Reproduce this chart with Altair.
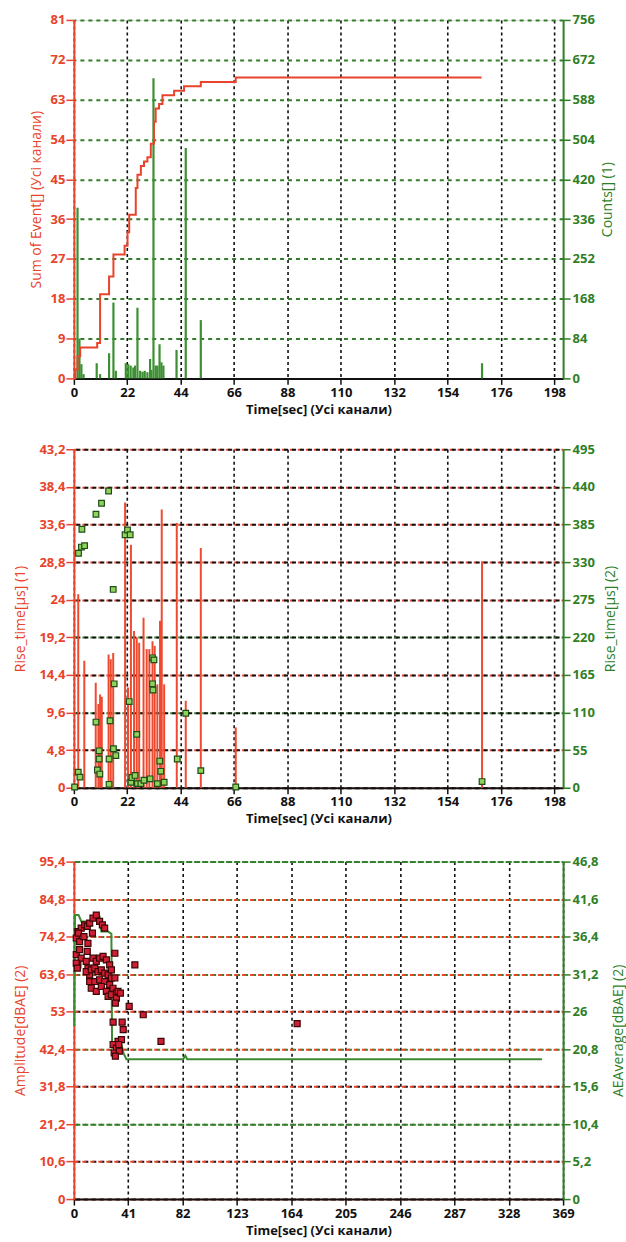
import altair as alt
import pandas as pd

# ---------------- colours ----------------
RED = "#e8442c"
GREEN = "#2f7f27"
BAR_GREEN = "#3c8f32"
GRID_GREEN = "#357f2c"
BLACK = "#111111"
SQ_GREEN = "#8fd35c"
SQ_RED = "#d01f35"

# ---------------- panel 1: cumulative events + counts ----------------
sum_t = [0, 0.6, 1.5, 2.6, 9.6, 10.8, 14.5, 16.3, 20.9, 22.1, 22.8, 25.5, 26.2,
         27.6, 28.9, 30.3, 31.7, 33.0, 33.7, 35.1, 36.5, 41.3, 45.4, 52.3, 66.7, 168.0]
sum_v = [0, 2, 5, 7, 8, 19, 23, 28, 30, 33, 37, 43, 46,
         48, 49, 50, 53, 58, 61, 62, 64, 65, 66, 67, 68, 68]

cnt_t = [1.5, 2.3, 3.1, 4.0, 9.4, 10.8, 14.5, 16.3, 17.3, 21.4, 22.4, 23.4, 24.5,
         25.2, 26.2, 27.3, 28.3, 29.2, 30.3, 31.4, 31.9, 32.8, 33.7, 34.4, 35.3,
         36.1, 36.9, 42.3, 46.1, 52.3, 168.2]
cnt_v = [360, 84, 30, 9, 32, 9, 53, 160, 16, 32, 30, 27, 23,
         27, 149, 16, 14, 16, 13, 41, 18, 633, 27, 27, 72,
         34, 27, 60, 486, 123, 32]

# ---------------- panel 2: rise time, channel 1 (lines) and 2 (squares) ----------------
r1_t = [1.8, 4.3, 9.0, 10.1, 10.8, 11.5, 14.3, 15.2, 16.2, 21.1, 22.3, 23.5, 24.8,
        25.9, 26.9, 28.7, 30.0, 31.1, 32.4, 33.3, 34.4, 35.5, 36.2, 37.2, 42.4,
        46.1, 52.3, 66.7, 168.2]
r1_v = [24.7, 16.2, 13.4, 10.7, 11.9, 11.6, 17.0, 16.4, 17.2, 36.4, 12.8, 31.0, 20.0,
        19.2, 18.5, 21.7, 17.7, 17.7, 18.7, 18.1, 13.2, 21.3, 35.5, 13.2, 33.8,
        11.1, 30.6, 7.7, 28.9]

r2_t = [0.3, 1.8, 2.5, 1.9, 3.1, 4.4, 3.3, 9.1, 11.4, 14.3, 16.2, 9.1, 9.7, 10.4,
        10.4, 10.7, 14.5, 14.9, 14.5, 16.3, 16.6, 17.3, 21.1, 22.1, 23.2, 22.8,
        23.5, 23.9, 25.2, 25.9, 26.2, 27.6, 28.9, 31.4, 32.4, 33.0, 32.4, 32.6,
        34.4, 35.4, 35.8, 37.2, 42.6, 46.1, 52.3, 66.7, 168.2]
r2_v = [1, 22.8, 15.5, 343, 352, 354, 378, 400, 416, 434, 290, 96, 26, 54,
        42, 20, 42, 98, 5, 57, 152, 47, 370, 377, 370, 126,
        8, 15, 18, 78, 6, 6, 11, 13, 190, 187, 152, 143,
        6, 39, 24, 8, 42, 109, 25, 1, 9]

# ---------------- panel 3: amplitude (squares) and AE average (line) ----------------
amp_t = [1.8, 3.0, 5.5, 8.1, 10.1, 11.9, 14.4, 16.9, 19.4, 21.5, 23.2, 3.5, 4.3,
         7.6, 14.0, 10.6, 10.1, 1.8, 3.0, 5.5, 9.3, 10.6, 11.9, 14.4, 16.9, 19.4,
         22.0, 24.5, 27.0, 9.3, 13.1, 15.7, 18.2, 20.7, 23.2, 25.8, 28.3, 11.9,
         15.7, 19.4, 23.2, 27.0, 29.5, 13.1, 16.9, 20.7, 24.5, 25.8, 28.3, 32.1,
         30.9, 33.3, 32.1, 35.1, 31.3, 29.6, 36.4, 37.2, 33.3, 35.9, 29.6, 32.1,
         30.4, 34.3, 31.3, 33.8, 41.7, 46.0, 52.3, 65.7, 168.4, 1.8, 2.6, 4.3,
         28.3, 30.9]
amp_v = [73.8, 75.6, 76.6, 77.5, 77.1, 78.0, 79.4, 80.3, 78.5, 77.5, 76.6, 75.2, 72.8,
         74.2, 75.2, 72.3, 70.0, 69.1, 66.2, 68.1, 67.2, 65.3, 63.4, 68.1, 67.2, 68.1,
         68.6, 67.6, 66.2, 64.3, 64.8, 65.3, 64.3, 64.8, 63.9, 63.4, 62.5, 61.5,
         61.5, 62.0, 61.5, 60.6, 59.6, 59.6, 58.7, 60.1, 58.7, 57.3, 57.8, 58.2,
         69.5, 58.7, 56.8, 58.2, 55.4, 50.0, 50.0, 47.9, 44.6, 45.1, 43.7, 42.7,
         41.3, 41.8, 40.4, 43.7, 54.5, 66.2, 52.1, 44.6, 49.6, 66.7, 65.3, 70.5,
         64.8, 62.5]

ae_t = [0.3, 0.8, 3.5, 5.6, 13.1, 16.9, 19.4, 20.7, 25.8, 28.3, 28.8, 33.0, 36.0,
        37.5, 39.6, 82.5, 84.0, 85.5, 353.0]
ae_v = [24.0, 39.4, 39.4, 38.5, 38.5, 39.2, 39.2, 37.1, 37.1, 36.8, 21.0, 20.9, 21.4,
        20.2, 19.4, 19.4, 19.9, 19.4, 19.4]

# ---------------- tick values ----------------
x_ticks_a = [0, 22, 44, 66, 88, 110, 132, 154, 176, 198]
x_ticks_b = [0, 41, 82, 123, 164, 205, 246, 287, 328, 369]
y1_left = [0, 9, 18, 27, 36, 45, 54, 63, 72, 81]
y1_right = [0, 84, 168, 252, 336, 420, 504, 588, 672, 756]
y2_left = [0, 4.8, 9.6, 14.4, 19.2, 24, 28.8, 33.6, 38.4, 43.2]
y2_right = [0, 55, 110, 165, 220, 275, 330, 385, 440, 495]
y3_left = [0, 10.6, 21.2, 31.8, 42.4, 53, 63.6, 74.2, 84.8, 95.4]
y3_right = [0, 5.2, 10.4, 15.6, 20.8, 26, 31.2, 36.4, 41.6, 46.8]

FONT = "Open Sans"
COMMA = "replace(toString(datum.value), '.', ',')"
W = 490


def near(vals):
    return " || ".join(f"abs(datum.value - {v}) < 0.01" for v in vals)


def x_enc(domain, ticks):
    return alt.X(
        "t:Q",
        scale=alt.Scale(domain=domain, nice=False, zero=False),
        axis=alt.Axis(
            values=ticks, title="Time[sec] (Усі канали)",
            grid=True, gridColor=BLACK, gridDash=[3, 3], gridWidth=1.6,
            domainColor=BLACK, domainWidth=2, tickColor=BLACK, tickSize=6,
            tickWidth=1.5, labelColor=BLACK, labelFont=FONT, labelFontSize=13,
            labelFontWeight="bold", labelPadding=2, labelFlush=False,
            titleFont=FONT, titleFontSize=13, titleFontWeight="bold",
            titleColor=BLACK, titlePadding=4,
        ),
    )


def y_axis(orient, ticks, title, color, height, title_x, grid_color=None,
           dash_offset=0):
    kw = dict(
        orient=orient, values=ticks, title=title, labelExpr=COMMA,
        domainColor=color, domainWidth=2, tickColor=color, tickWidth=1.5,
        labelColor=color, labelFont=FONT, labelFontSize=13,
        labelFontWeight="bold", titleColor=color, titleFont=FONT,
        titleFontSize=14, titleFontWeight="normal",
        titleX=title_x, titleY=height / 2,
    )
    if orient == "right":
        kw.update(titleAngle=270, titleBaseline="top", tickSize=7, labelPadding=2)
    else:
        kw.update(titleAngle=270, titleBaseline="bottom", tickSize=8, labelPadding=1)
    if grid_color is None:
        kw.update(grid=False)
    else:
        kw.update(grid=True, gridColor=grid_color, gridDash=[4, 4], gridWidth=2,
                  gridDashOffset=dash_offset)
    return alt.Axis(**kw)


# ---------------- panel 1 ----------------
H1 = 359
X1 = x_enc([0, 201.6], x_ticks_a)
sum_df = pd.DataFrame({"t": sum_t, "v": sum_v})
cnt_df = pd.DataFrame({"t": cnt_t, "c": cnt_v})

counts = alt.Chart(cnt_df).mark_rule(color=BAR_GREEN, strokeWidth=2.2).encode(
    x=X1,
    y=alt.Y("c:Q", scale=alt.Scale(domain=[0, 756], nice=False),
            axis=y_axis("right", y1_right, "Counts[] (1)", GREEN, H1, 37,
                        GRID_GREEN)),
    y2=alt.datum(0),
)
events = alt.Chart(sum_df).mark_line(interpolate="step-after", color=RED,
                                      strokeWidth=2).encode(
    x=X1,
    y=alt.Y("v:Q", scale=alt.Scale(domain=[0, 81], nice=False),
            axis=y_axis("left", y1_left, "Sum of Event[] (Усі канали)", RED,
                        H1, -30)),
)
panel1 = alt.layer(counts, events).resolve_scale(y="independent").properties(
    width=W, height=H1)

# ---------------- panel 2 ----------------
H2 = 339
X2 = x_enc([0, 201.6], x_ticks_a)
r1_df = pd.DataFrame({"t": r1_t, "r": r1_v})
r2_df = pd.DataFrame({"t": r2_t, "r": r2_v})

left2_grid = {"condition": {"test": near([9.6, 19.2]), "value": GRID_GREEN},
              "value": RED}
rise1 = alt.Chart(r1_df).mark_rule(color="#ee4a30", strokeWidth=2).encode(
    x=X2,
    y=alt.Y("r:Q", scale=alt.Scale(domain=[0, 43.2], nice=False),
            axis=y_axis("left", y2_left, "Rise_time[µs] (1)", RED, H2, -46,
                        left2_grid)),
    y2=alt.datum(0),
)
rise2 = alt.Chart(r2_df).mark_square(size=32, fill=SQ_GREEN, stroke="#1f4d18",
                                      strokeWidth=1.2, opacity=1).encode(
    x=X2,
    y=alt.Y("r:Q", scale=alt.Scale(domain=[0, 495], nice=False),
            axis=y_axis("right", y2_right, "Rise_time[µs] (2)", GREEN, H2, 40,
                        BLACK, 4)),
)
panel2 = alt.layer(rise1, rise2).resolve_scale(y="independent").properties(
    width=W, height=H2)

# ---------------- panel 3 ----------------
H3 = 338
X3 = x_enc([0, 369], x_ticks_b)
amp_df = pd.DataFrame({"t": amp_t, "a": amp_v})
ae_df = pd.DataFrame({"t": ae_t, "e": ae_v})

left3_grid = {"condition": {"test": near([21.2, 95.4]), "value": GRID_GREEN},
              "value": RED}
right3_grid = {"condition": {"test": near([20.8, 31.2, 36.4, 41.6, 46.8, 10.4]),
                             "value": GRID_GREEN},
               "value": BLACK}
ae_line = alt.Chart(ae_df).mark_line(color="#3a8a30", strokeWidth=2).encode(
    x=X3,
    y=alt.Y("e:Q", scale=alt.Scale(domain=[0, 46.8], nice=False),
            axis=y_axis("right", y3_right, "AEAverage[dBAE] (2)", GREEN, H3, 48,
                        right3_grid, 4)),
)
amp = alt.Chart(amp_df).mark_square(size=36, fill=SQ_RED, stroke="#3b0606",
                                    strokeWidth=1.2, opacity=1).encode(
    x=X3,
    y=alt.Y("a:Q", scale=alt.Scale(domain=[0, 95.4], nice=False),
            axis=y_axis("left", y3_left, "Amplitude[dBAE] (2)", RED, H3, -46,
                        left3_grid)),
)
panel3 = alt.layer(ae_line, amp).resolve_scale(y="independent").properties(
    width=W, height=H3)

top_pair = alt.vconcat(panel1, panel2, spacing=25)

chart = (
    alt.vconcat(top_pair, panel3, spacing=28)
    .properties(padding={"left": 13, "top": 12, "right": 0, "bottom": 0})
    .configure_view(stroke=None)
    .configure(background="white")
)

chart.save("out.html", embed_options={"renderer": "svg", "actions": False})
